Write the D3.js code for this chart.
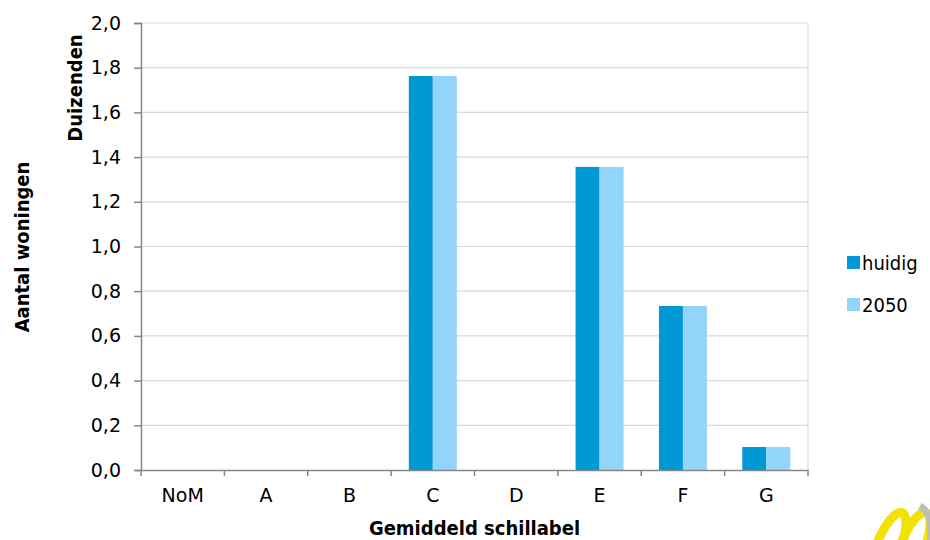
<!DOCTYPE html>
<html>
<head>
<meta charset="utf-8">
<script src="https://cdn.jsdelivr.net/npm/d3@7"></script>
<style>
  body { margin: 0; background: #fff; }
  text { font-family: "DejaVu Sans Condensed", "DejaVu Sans", sans-serif; fill: #000; }
  .tick text { font-family: "DejaVu Sans", sans-serif; }
</style>
</head>
<body>
<div id="chart"></div>
<script>
// data
var labels = ["NoM", "A", "B", "C", "D", "E", "F", "G"];
var huidig = [0, 0, 0, 1.763, 0, 1.356, 0.734, 0.103];
var jaar2050 = [0, 0, 0, 1.763, 0, 1.356, 0.734, 0.103];
var yTicks = [0, 0.2, 0.4, 0.6, 0.8, 1.0, 1.2, 1.4, 1.6, 1.8, 2.0];
var series = ["huidig", "2050"];
var kleuren = ["#0099d5", "#93d4fa"];

var margin = { top: 23, right: 122, bottom: 70, left: 141 };
var svg = d3.select("#chart").append("svg").attr("width", 930).attr("height", 540);
var width = 930 - margin.left - margin.right;
var height = 540 - margin.top - margin.bottom;

var x = d3.scaleBand().domain(labels).range([0, width]).paddingInner(0).paddingOuter(0);
var y = d3.scaleLinear().domain([0, 2]).range([height, 0]);

var g = svg.append("g").attr("transform", "translate(" + margin.left + "," + margin.top + ")");

// gridlines
g.selectAll(".grid").data(yTicks.filter(d => d > 0)).enter().append("line")
    .attr("x1", 0).attr("x2", width)
    .attr("y1", d => y(d)).attr("y2", d => y(d))
    .attr("stroke", "#d9d9d9").attr("stroke-width", 1.2);
g.append("line").attr("x1", width).attr("x2", width).attr("y1", 0).attr("y2", height)
    .attr("stroke", "#d9d9d9").attr("stroke-width", 1.2);

// bars
var barW = 24;
var data = labels.map(function (l, i) { return { label: l, vals: [huidig[i], jaar2050[i]] }; });
var groups = g.selectAll(".cat").data(data).enter().append("g")
    .attr("transform", d => "translate(" + (x(d.label) + x.bandwidth() / 2 - barW) + ",0)");
groups.selectAll("rect").data(d => d.vals).enter().append("rect")
    .attr("x", (d, i) => i * barW)
    .attr("y", d => y(d))
    .attr("width", barW)
    .attr("height", d => height - y(d))
    .attr("fill", (d, i) => kleuren[i]);

// y axis
var yAxis = g.append("g")
    .call(d3.axisLeft(y).tickValues(yTicks).tickSize(7).tickPadding(13)
        .tickFormat(d => d3.format(".1f")(d).replace(".", ",")));
yAxis.select(".domain").attr("stroke", "#868686").attr("stroke-width", 1.5);
yAxis.selectAll(".tick line").attr("stroke", "#868686").attr("stroke-width", 1.5);
yAxis.selectAll(".tick text").style("font-size", "19px");

// x axis
var xAxis = g.append("g").attr("transform", "translate(0," + height + ")")
    .call(d3.axisBottom(x).tickSize(0).tickPadding(19));
xAxis.select(".domain").attr("stroke", "#868686").attr("stroke-width", 1.5);
xAxis.selectAll(".tick text").style("font-size", "19px");
xAxis.selectAll(".sep").data(d3.range(labels.length + 1)).enter().append("line")
    .attr("x1", i => i * x.step()).attr("x2", i => i * x.step())
    .attr("y1", 0).attr("y2", 6)
    .attr("stroke", "#868686").attr("stroke-width", 1.5);

// titles
svg.append("text").attr("x", margin.left + width / 2).attr("y", 535)
    .attr("text-anchor", "middle").style("font-size", "20px").attr("font-weight", "bold")
    .text("Gemiddeld schillabel");
svg.append("text").attr("transform", "translate(82,88) rotate(-90)")
    .attr("text-anchor", "middle").style("font-size", "20px").attr("font-weight", "bold")
    .text("Duizenden");
svg.append("text").attr("transform", "translate(29,247) rotate(-90)")
    .attr("text-anchor", "middle").style("font-size", "20px").attr("font-weight", "bold")
    .text("Aantal woningen");

// legend
var legend = svg.selectAll(".leg").data(series).enter().append("g")
    .attr("transform", (d, i) => "translate(847," + (256 + i * 42) + ")");
legend.append("rect").attr("width", 13).attr("height", 13).attr("fill", (d, i) => kleuren[i]);
legend.append("text").attr("x", 15).attr("y", 14).style("font-size", "20px").text(d => d);

// logo hoekje
var logo = svg.append("g").attr("transform", "translate(896,548)");
logo.append("ellipse").attr("cx", -8).attr("cy", 0).attr("rx", 12).attr("ry", 38)
    .attr("transform", "rotate(22,-8,0)").attr("fill", "none").attr("stroke", "#f2e200").attr("stroke-width", 9);
logo.append("ellipse").attr("cx", 16).attr("cy", 0).attr("rx", 12).attr("ry", 38)
    .attr("transform", "rotate(22,16,0)").attr("fill", "none").attr("stroke", "#f2e200").attr("stroke-width", 9);
logo.append("path").attr("d", "M24,-42 Q38,-34 34,-8").attr("fill", "none")
    .attr("stroke", "#bdbdbd").attr("stroke-width", 7);
</script>
</body>
</html>
